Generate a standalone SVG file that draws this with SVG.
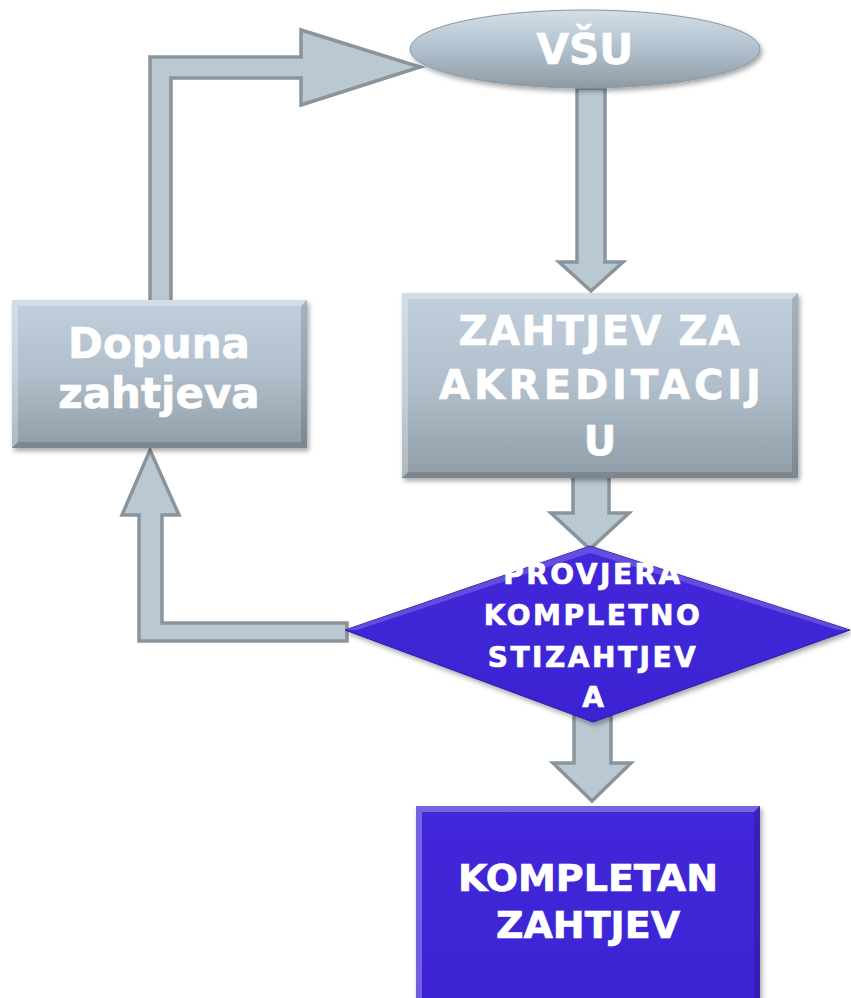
<svg xmlns="http://www.w3.org/2000/svg" width="851" height="998" viewBox="0 0 851 998">
<defs>
<linearGradient id="gGrey" x1="0" y1="0" x2="0" y2="1">
<stop offset="0" stop-color="#c1d0dc"/>
<stop offset="0.5" stop-color="#b0bfcb"/>
<stop offset="1" stop-color="#909da7"/>
</linearGradient>
<linearGradient id="gEll" x1="0" y1="0" x2="0" y2="1">
<stop offset="0" stop-color="#d3dfe8"/>
<stop offset="0.45" stop-color="#b3c3cf"/>
<stop offset="1" stop-color="#8d9ba6"/>
</linearGradient>
<linearGradient id="gBlue" x1="0" y1="0" x2="0" y2="1">
<stop offset="0" stop-color="#4129d9"/>
<stop offset="1" stop-color="#3b23d3"/>
</linearGradient>
<filter id="sh" x="-10%" y="-10%" width="125%" height="130%">
<feDropShadow dx="2" dy="3" stdDeviation="2.5" flood-color="#000" flood-opacity="0.35"/>
</filter>
</defs>
<style>
.arr{fill:#bac8d2;stroke:#8a949c;stroke-width:3.5;stroke-linejoin:miter}
.t{font-family:"DejaVu Sans","Liberation Sans",sans-serif;font-weight:bold;fill:#ffffff;stroke:#ffffff;stroke-width:0.7;text-anchor:middle}
.hl{fill:#ffffff;opacity:0.28}
.dk{fill:#000000;opacity:0.14}
</style>
<g id="connectors">
<polygon class="arr" points="150,306 150,57 301,57 301,30 420,67 301,105 301,78 171,78 171,306"/>
<polygon class="arr" points="577,88 605,88 605,262 623,262 591,291 559,262 577,262"/>
<polygon class="arr" points="573,472 609,472 609,513 629,513 590,549 551,513 573,513"/>
<polygon class="arr" points="574,712 611,712 611,763 631,763 592,801 553,763 574,763"/>
<polygon class="arr" points="347,623 162,623 162,515 179,515 150,450 122,515 139,515 139,641 347,641"/>
</g>
<g id="node-vsu">
<ellipse cx="585" cy="49" rx="175" ry="39" fill="url(#gEll)" stroke="#8b98a2" stroke-width="1" filter="url(#sh)"/>
<text class="t" x="585" y="64" font-size="42">VŠU</text>
</g>
<g id="node-zahtjev">
<rect x="402" y="293" width="396" height="185" fill="url(#gGrey)" filter="url(#sh)"/>
<polygon class="hl" points="402,293 798,293 792,299 408,299"/>
<polygon class="hl" points="402,293 408,299 408,472 402,478"/>
<polygon class="dk" points="798,293 798,478 792,472 792,299"/>
<polygon class="dk" points="402,478 798,478 792,472 408,472"/>
<text class="t" x="600" y="345" font-size="40" letter-spacing="1.5">ZAHTJEV ZA</text>
<text class="t" x="600" y="399" font-size="40" textLength="322" lengthAdjust="spacing">AKREDITACIJ</text>
<text class="t" x="600" y="455" font-size="40">U</text>
</g>
<g id="node-dopuna">
<rect x="12" y="300" width="295" height="148" fill="url(#gGrey)" filter="url(#sh)"/>
<polygon class="hl" points="12,300 307,300 301,306 18,306"/>
<polygon class="hl" points="12,300 18,306 18,442 12,448"/>
<polygon class="dk" points="307,300 307,448 301,442 301,306"/>
<polygon class="dk" points="12,448 307,448 301,442 18,442"/>
<text class="t" x="159" y="358" font-size="42">Dopuna</text>
<text class="t" x="159" y="408" font-size="42">zahtjeva</text>
</g>
<g id="node-provjera">
<polygon points="590,546 850,630 593,722 345,630" fill="url(#gBlue)" stroke="#2c1aa8" stroke-width="1" filter="url(#sh)"/>
<polygon points="590,546 850,630 838,630 590,553 357,630 345,630" fill="#ffffff" opacity="0.18"/>
<text class="t" x="593" y="584" font-size="28" letter-spacing="2.5">PROVJERA</text>
<text class="t" x="593" y="625" font-size="28" letter-spacing="2.5">KOMPLETNO</text>
<text class="t" x="593" y="667" font-size="28" letter-spacing="2.5">STIZAHTJEV</text>
<text class="t" x="593" y="707" font-size="28">A</text>
</g>
<g id="node-kompletan">
<rect x="416" y="806" width="344" height="200" fill="url(#gBlue)" filter="url(#sh)"/>
<polygon class="hl" points="416,806 760,806 754,812 422,812"/>
<polygon class="hl" points="416,806 422,812 422,998 416,998"/>
<polygon class="dk" points="760,806 760,998 754,998 754,812"/>
<text class="t" x="588" y="891" font-size="38">KOMPLETAN</text>
<text class="t" x="588" y="938" font-size="38">ZAHTJEV</text>
</g>
</svg>
